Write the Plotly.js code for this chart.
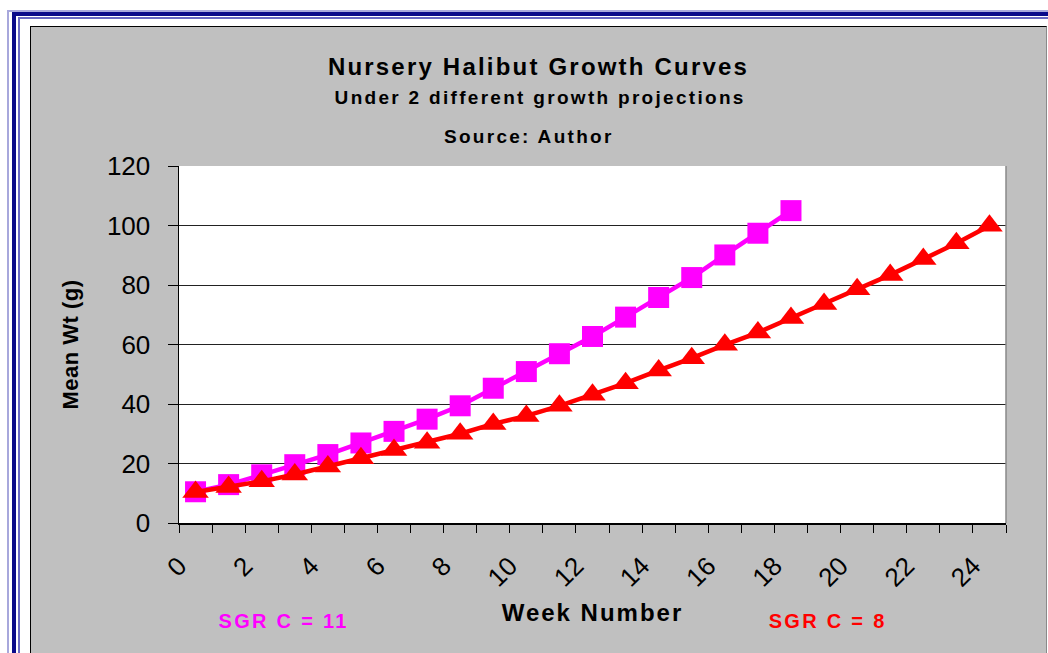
<!DOCTYPE html>
<html>
<head>
<meta charset="utf-8">
<script src="https://cdn.plot.ly/plotly-3.0.1.min.js"></script>
<style>
  html, body { margin: 0; padding: 0; background: #ffffff; width: 1048px; height: 653px; overflow: hidden; position: relative; }
  .fr { position: absolute; right: 0; bottom: 0; }
  #f1 { left: 7px; top: 10px; border-left: 2px solid #a8a8dc; border-top: 2px solid #a8a8dc; }
  #f2 { left: 12px; top: 12px; border-left: 4px solid #0a0a8a; border-top: 4px solid #0a0a8a; }
  #f3 { left: 18px; top: 17px; border-left: 2px solid #6a6ac4; border-top: 2px solid #6a6ac4; }
  #wrap { position: absolute; left: 30px; top: 26px; width: 1015px; height: 627px;
          border-left: 1px solid #000; border-top: 1px solid #000; border-right: 1px solid #8a8a8a; background: #c0c0c0; }
  #chart { width: 1015px; height: 627px; }
  text.gtitle { letter-spacing: 2.2px; }
  text.xtitle { letter-spacing: 2px; }
  text.ytitle { letter-spacing: 0.5px; }
  .annotation-text.sub { letter-spacing: 2.3px; }
</style>
</head>
<body>
<div class="fr" id="f1"></div>
<div class="fr" id="f2"></div>
<div class="fr" id="f3"></div>
<div id="wrap"><div id="chart"></div></div>
<script>
// Week positions (points sit midway between the week tick marks)
const weekMid = [0.5, 1.5, 2.5, 3.5, 4.5, 5.5, 6.5, 7.5, 8.5, 9.5, 10.5, 11.5, 12.5,
                 13.5, 14.5, 15.5, 16.5, 17.5, 18.5, 19.5, 20.5, 21.5, 22.5, 23.5, 24.5];
// Mean weight (g), SGR C = 11 (magenta squares)
const sgr11 = [10.5, 12.9, 16.2, 19.6, 23.0, 26.9, 30.8, 34.9, 39.4, 45.3, 50.9, 56.9, 62.7,
               69.2, 75.8, 82.5, 90.1, 97.4, 105.0];
// Mean weight (g), SGR C = 8 (red triangles)
const sgr8 = [10.4, 12.1, 14.0, 16.3, 19.0, 21.8, 24.5, 27.0, 30.0, 33.3, 36.0, 39.4, 43.1,
              47.0, 51.3, 55.4, 59.9, 64.0, 68.9, 73.6, 78.6, 83.4, 88.7, 94.0, 99.9];
// Axis tick labels
const xTickVals = [0, 2, 4, 6, 8, 10, 12, 14, 16, 18, 20, 22, 24];
const xTickText = ['0', '2', '4', '6', '8', '10', '12', '14', '16', '18', '20', '22', '24'];
const yTickVals = [0, 20, 40, 60, 80, 100, 120];

const FONT = '"Liberation Sans", Arial, sans-serif';

const traces = [
  {
    x: weekMid.slice(0, sgr11.length), y: sgr11, name: 'SGR C = 11',
    type: 'scatter', mode: 'lines+markers',
    line: { color: '#ff00ff', width: 4.5 },
    marker: { symbol: 'square', size: 21, color: '#ff00ff' },
    cliponaxis: false
  },
  {
    x: weekMid.slice(0, sgr8.length), y: sgr8, name: 'SGR C = 8',
    type: 'scatter', mode: 'lines+markers',
    line: { color: '#ff0000', width: 4.5 },
    marker: { symbol: 'triangle-up', size: 23, color: '#ff0000' },
    cliponaxis: false
  }
];

const layout = {
  width: 1015, height: 627,
  margin: { l: 148, r: 40, t: 139, b: 131 },
  paper_bgcolor: '#c0c0c0',
  plot_bgcolor: '#ffffff',
  showlegend: false,
  font: { family: FONT, color: '#000' },
  title: {
    text: 'Nursery Halibut Growth Curves',
    font: { family: FONT, size: 24, weight: 'bold', color: '#000' },
    x: 0.5, xanchor: 'center', xref: 'container',
    y: 1 - 40 / 627, yanchor: 'middle', yref: 'container'
  },
  xaxis: {
    range: [0, 25],
    tickmode: 'array', tickvals: xTickVals, ticktext: xTickText,
    tickangle: -45,
    ticks: 'outside', ticklen: 8, tickwidth: 1, tickcolor: '#000',
    minor: { tick0: 0, dtick: 1, ticks: 'outside', ticklen: 8, tickwidth: 1, tickcolor: '#000', showgrid: false },
    tickfont: { family: FONT, size: 26, color: '#000' },
    ticklabelstandoff: 8,
    showline: true, linecolor: '#000', linewidth: 1.5,
    showgrid: false, zeroline: false,
    title: { text: 'Week Number', font: { family: FONT, size: 24, weight: 'bold', color: '#000' }, standoff: 12 },
    fixedrange: true
  },
  yaxis: {
    range: [0, 120],
    tickmode: 'array', tickvals: yTickVals,
    ticks: 'outside', ticklen: 10, tickwidth: 1, tickcolor: '#000',
    tickfont: { family: FONT, size: 26, color: '#000' },
    ticklabelstandoff: 12,
    showline: true, linecolor: '#000', linewidth: 1.5,
    showgrid: true, gridcolor: '#222', gridwidth: 1,
    zeroline: false,
    title: { text: 'Mean Wt (g)', font: { family: FONT, size: 22, weight: 'bold', color: '#000' }, standoff: 22 },
    fixedrange: true
  },
  shapes: [
    { type: 'line', xref: 'paper', yref: 'paper', x0: 1, x1: 1, y0: 0, y1: 1,
      line: { color: '#8a8a8a', width: 1.5 } }
  ],
  annotations: [
    { text: 'Under 2 different growth projections', xref: 'paper', yref: 'paper',
      x: (540 - 31 - 148) / 827, y: (496 - 70) / 357, xanchor: 'center', yanchor: 'middle',
      showarrow: false, font: { family: FONT, size: 19, weight: 'bold', color: '#000' } },
    { text: 'Source: Author', xref: 'paper', yref: 'paper',
      x: (529 - 31 - 148) / 827, y: (496 - 109) / 357, xanchor: 'center', yanchor: 'middle',
      showarrow: false, font: { family: FONT, size: 19, weight: 'bold', color: '#000' } },
    { text: 'SGR C = 11', xref: 'paper', yref: 'paper',
      x: (283 - 31 - 148) / 827, y: (496 - 594) / 357, xanchor: 'center', yanchor: 'middle',
      showarrow: false, font: { family: FONT, size: 20, weight: 'bold', color: '#ff00ff' } },
    { text: 'SGR C = 8', xref: 'paper', yref: 'paper',
      x: (827 - 31 - 148) / 827, y: (496 - 594) / 357, xanchor: 'center', yanchor: 'middle',
      showarrow: false, font: { family: FONT, size: 20, weight: 'bold', color: '#ff0000' } }
  ]
};

Plotly.newPlot('chart', traces, layout, { displayModeBar: false, staticPlot: true }).then(function () {
  document.querySelectorAll('.annotation-text').forEach(function (t) {
    t.classList.add('sub');
  });
});
</script>
</body>
</html>
